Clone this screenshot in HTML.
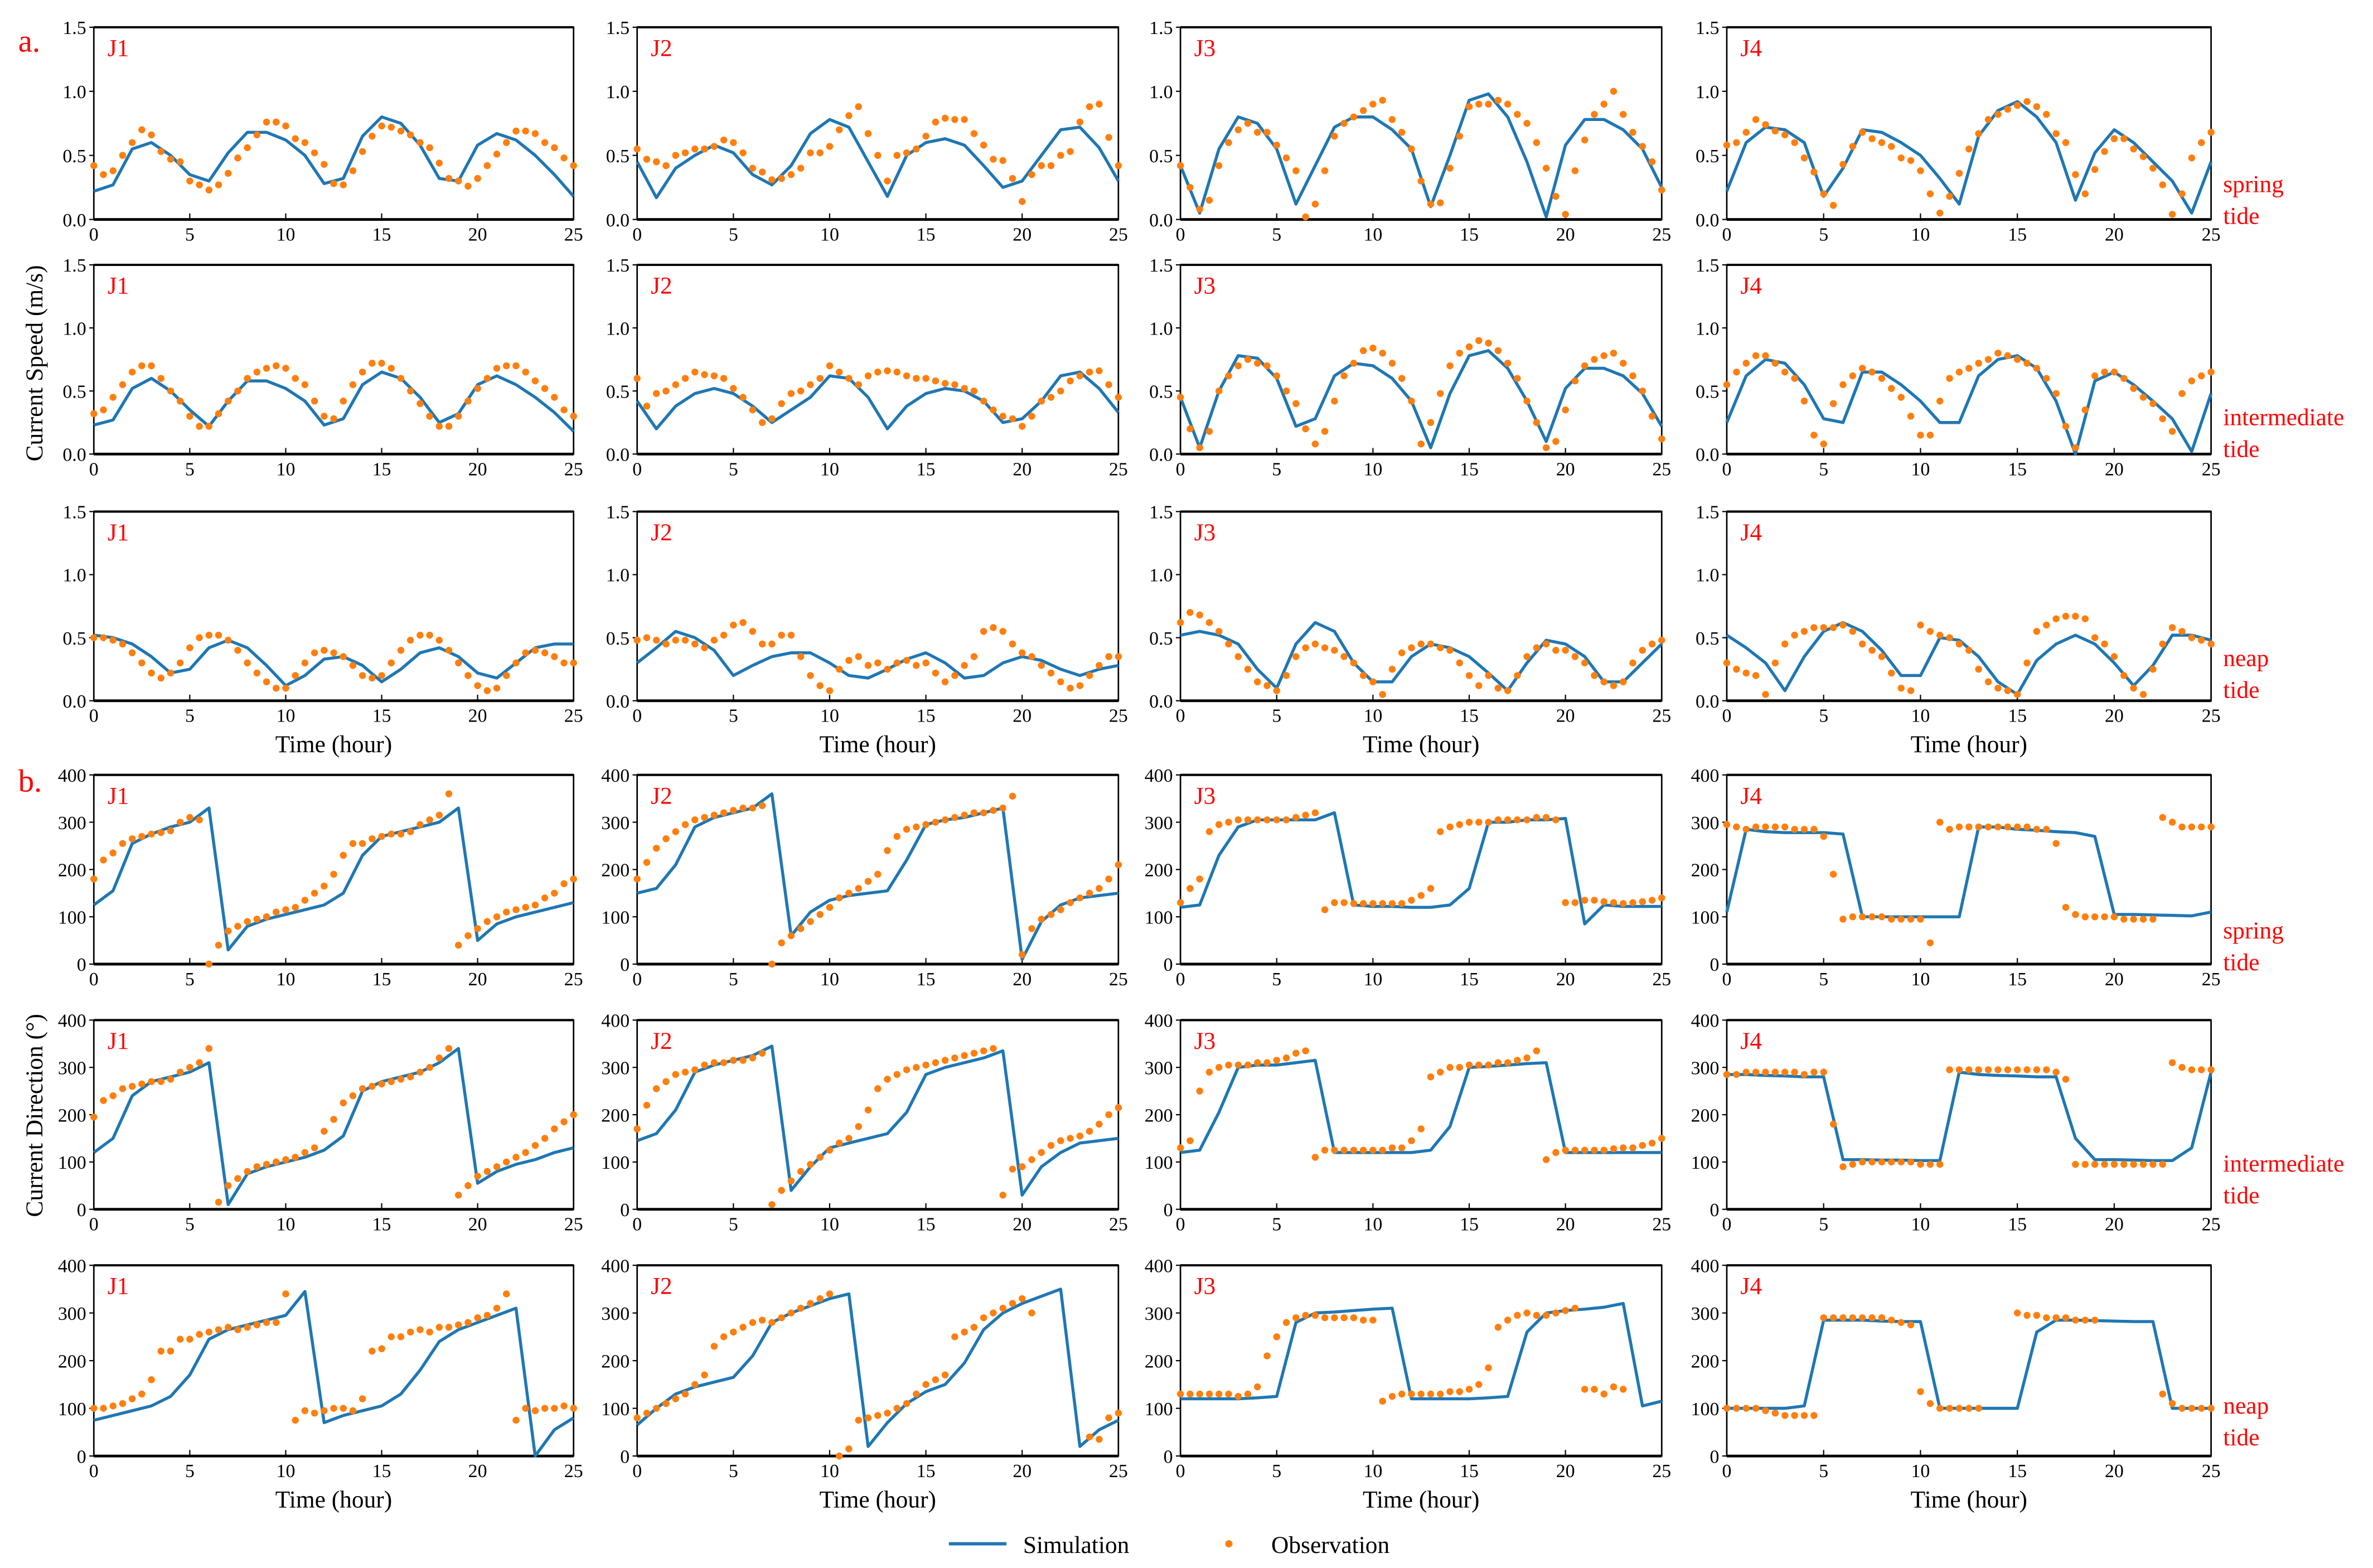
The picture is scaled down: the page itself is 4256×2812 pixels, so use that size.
<!DOCTYPE html>
<html><head><meta charset="utf-8"><style>
html,body{margin:0;padding:0;background:#fff;}
svg{display:block;font-family:"Liberation Serif",serif;}
</style></head><body>
<svg id="fig" width="4256" height="2812" viewBox="0 0 1568 1036" xmlns="http://www.w3.org/2000/svg">
<rect x="0" y="0" width="1568" height="1036" fill="#fff"/>
<text x="12" y="34" font-size="21" fill="#f00">a.</text>
<text x="12" y="523" font-size="21" fill="#f00">b.</text>
<text transform="translate(28,240) rotate(-90)" text-anchor="middle" font-size="16">Current Speed (m/s)</text>
<text transform="translate(28,737) rotate(-90)" text-anchor="middle" font-size="16">Current Direction (°)</text>
<g font-size="16" fill="#f00">
<text x="1469" y="127">spring</text><text x="1469" y="148">tide</text>
<text x="1469" y="281">intermediate</text><text x="1469" y="302">tide</text>
<text x="1469" y="440">neap</text><text x="1469" y="461">tide</text>
<text x="1469" y="620">spring</text><text x="1469" y="641">tide</text>
<text x="1469" y="774">intermediate</text><text x="1469" y="795">tide</text>
<text x="1469" y="934">neap</text><text x="1469" y="955">tide</text>
</g>
<g>
<line x1="627" y1="1020" x2="665" y2="1020" stroke="#1f77b4" stroke-width="2.2"/>
<text x="676" y="1026" font-size="16">Simulation</text>
<circle cx="812" cy="1020" r="2.4" fill="#ff7f0e"/>
<text x="840" y="1026" font-size="16">Observation</text>
</g>
</svg>
<script>
const xTicks=[0,5,10,15,20,25];
const speedTicks=[0,0.5,1.0,1.5];
const speedTickLabels=["0.0","0.5","1.0","1.5"];
const dirTicks=[0,100,200,300,400];
const dirTickLabels=["0","100","200","300","400"];
const stations=["J1","J2","J3","J4"];

const spJ1Sim=[.22,.27,.55,.6,.5,.35,.3,.52,.68,.68,.62,.5,.28,.32,.65,.8,.75,.58,.32,.3,.58,.67,.62,.5,.35,.18];
const spJ1Obs=[.42,.35,.38,.5,.6,.7,.66,.53,.47,.45,.3,.27,.23,.27,.36,.48,.56,.66,.76,.76,.73,.63,.6,.52,.43,.28,.27,.38,.53,.65,.73,.72,.69,.66,.6,.56,.44,.32,.3,.26,.32,.42,.51,.6,.69,.69,.67,.6,.56,.48,.42];
const spJ2Sim=[.45,.17,.4,.5,.58,.52,.35,.27,.42,.67,.78,.72,.45,.18,.5,.6,.63,.58,.42,.25,.3,.5,.7,.72,.56,.3];
const spJ2Obs=[.55,.47,.45,.42,.5,.52,.55,.55,.57,.62,.6,.52,.4,.37,.31,.32,.35,.4,.52,.52,.57,.7,.81,.88,.67,.5,.3,.5,.52,.55,.65,.76,.79,.78,.78,.67,.58,.47,.46,.32,.14,.35,.42,.42,.5,.53,.76,.88,.9,.64,.42];
const spJ3Sim=[.42,.05,.55,.8,.75,.55,.12,.42,.72,.8,.8,.7,.55,.1,.5,.93,.98,.8,.45,.02,.58,.78,.78,.7,.55,.25];
const spJ3Obs=[.42,.25,.08,.15,.42,.6,.7,.75,.68,.68,.58,.48,.38,.02,.12,.38,.65,.75,.8,.85,.9,.93,.78,.68,.55,.3,.12,.13,.4,.65,.88,.9,.9,.93,.9,.82,.75,.6,.4,.18,.04,.38,.62,.82,.9,1.0,.82,.68,.57,.45,.23];
const spJ4Sim=[.22,.6,.72,.7,.6,.18,.4,.7,.68,.6,.5,.32,.12,.65,.85,.92,.8,.6,.15,.52,.7,.6,.45,.3,.05,.45];
const spJ4Obs=[.58,.6,.68,.78,.74,.69,.66,.6,.48,.37,.2,.11,.43,.57,.68,.63,.6,.57,.48,.46,.38,.2,.05,.18,.36,.55,.67,.78,.82,.86,.89,.92,.88,.82,.67,.6,.35,.2,.39,.53,.63,.63,.55,.49,.4,.27,.04,.2,.48,.6,.68];

const imJ1Sim=[.23,.27,.52,.6,.5,.35,.22,.42,.58,.58,.52,.42,.23,.28,.55,.65,.6,.45,.25,.32,.55,.62,.55,.45,.33,.18];
const imJ1Obs=[.32,.35,.45,.55,.65,.7,.7,.6,.5,.42,.3,.22,.22,.32,.42,.5,.6,.65,.68,.7,.68,.6,.55,.42,.3,.28,.42,.55,.65,.72,.72,.68,.6,.5,.4,.3,.22,.22,.3,.42,.52,.6,.68,.7,.7,.65,.58,.52,.45,.35,.3];
const imJ2Sim=[.42,.2,.38,.48,.52,.48,.38,.25,.35,.45,.62,.6,.45,.2,.38,.48,.52,.5,.42,.25,.28,.42,.62,.65,.52,.33];
const imJ2Obs=[.6,.38,.48,.5,.55,.6,.65,.63,.62,.6,.52,.45,.35,.25,.28,.4,.48,.5,.55,.6,.7,.65,.6,.55,.62,.65,.66,.65,.62,.6,.6,.58,.56,.55,.52,.5,.42,.35,.3,.28,.22,.3,.42,.45,.5,.58,.62,.65,.66,.55,.45];
const imJ3Sim=[.45,.05,.5,.78,.76,.6,.22,.28,.62,.72,.7,.6,.42,.05,.48,.78,.82,.68,.42,.1,.52,.68,.68,.62,.48,.22];
const imJ3Obs=[.45,.2,.05,.18,.5,.62,.7,.75,.72,.7,.62,.5,.4,.2,.08,.18,.42,.62,.72,.82,.84,.8,.72,.6,.42,.08,.25,.48,.7,.8,.85,.9,.88,.82,.72,.6,.42,.25,.05,.1,.35,.58,.7,.75,.78,.8,.72,.62,.5,.3,.12];
const imJ4Sim=[.25,.62,.75,.72,.55,.28,.25,.65,.65,.55,.42,.25,.25,.62,.75,.78,.68,.42,0,.58,.65,.55,.42,.28,.02,.48];
const imJ4Obs=[.55,.65,.72,.78,.78,.72,.65,.6,.42,.15,.08,.4,.55,.62,.68,.65,.6,.52,.45,.3,.15,.15,.42,.6,.65,.68,.72,.75,.8,.78,.75,.72,.68,.6,.48,.22,.05,.35,.62,.65,.65,.6,.52,.45,.4,.28,.18,.48,.58,.62,.65];

const npJ1Sim=[.52,.5,.45,.35,.22,.25,.42,.48,.42,.28,.12,.2,.33,.35,.28,.15,.25,.38,.42,.35,.22,.18,.3,.42,.45,.45];
const npJ1Obs=[.5,.5,.48,.45,.38,.3,.22,.18,.22,.3,.42,.5,.52,.52,.48,.4,.3,.22,.15,.1,.1,.2,.3,.38,.4,.38,.35,.28,.2,.18,.2,.3,.4,.48,.52,.52,.48,.4,.3,.2,.12,.08,.1,.2,.3,.38,.4,.38,.35,.3,.3];
const npJ2Sim=[.3,.42,.55,.5,.4,.2,.28,.35,.38,.38,.3,.2,.18,.25,.33,.38,.3,.18,.2,.3,.35,.32,.25,.2,.25,.28];
const npJ2Obs=[.48,.5,.48,.45,.48,.48,.45,.42,.48,.52,.6,.62,.55,.45,.45,.52,.52,.35,.2,.12,.08,.25,.32,.35,.28,.3,.25,.3,.32,.28,.3,.22,.15,.2,.28,.35,.55,.58,.55,.45,.38,.35,.28,.22,.15,.1,.12,.2,.28,.35,.35];
const npJ3Sim=[.52,.55,.52,.45,.25,.1,.45,.62,.55,.3,.15,.15,.35,.45,.42,.35,.22,.08,.3,.48,.45,.35,.15,.15,.3,.45];
const npJ3Obs=[.62,.7,.68,.62,.55,.45,.35,.25,.15,.12,.08,.2,.35,.42,.45,.42,.4,.35,.3,.2,.15,.05,.25,.38,.42,.45,.45,.42,.4,.3,.2,.12,.2,.1,.08,.2,.35,.42,.45,.4,.4,.35,.3,.2,.15,.12,.15,.3,.4,.45,.48];
const npJ4Sim=[.52,.42,.3,.08,.35,.55,.62,.55,.4,.2,.2,.5,.48,.35,.15,.05,.32,.45,.52,.45,.3,.12,.28,.52,.52,.48];
const npJ4Obs=[.3,.25,.22,.2,.05,.3,.45,.52,.55,.58,.58,.58,.6,.55,.45,.4,.35,.22,.1,.08,.6,.55,.52,.5,.45,.4,.25,.15,.1,.08,.05,.3,.55,.6,.65,.67,.67,.65,.5,.45,.35,.2,.1,.05,.25,.45,.58,.55,.5,.48,.45];

const dsJ1Sim=[125,155,255,275,290,300,330,30,80,95,105,115,125,150,230,270,280,290,300,330,50,85,100,110,120,130];
const dsJ1Obs=[180,220,235,255,265,270,275,278,282,300,310,305,0,40,70,80,90,95,100,110,115,120,135,150,165,190,230,255,255,265,270,275,275,280,295,305,315,360,40,60,75,90,100,110,115,120,125,140,150,170,180];
const dsJ2Sim=[150,160,210,290,310,320,330,360,60,110,135,145,150,155,220,295,305,310,320,330,10,90,125,140,145,150];
const dsJ2Obs=[180,215,245,265,280,295,305,310,315,320,325,330,330,335,0,45,60,75,90,105,120,140,150,160,175,190,240,270,285,290,295,300,305,310,315,320,320,325,330,355,20,75,95,105,115,130,140,150,160,180,210];
const dsJ3Sim=[120,125,230,290,305,305,305,305,320,125,122,122,120,120,125,160,300,300,305,305,308,85,125,122,122,122];
const dsJ3Obs=[130,160,180,280,295,300,305,305,305,305,305,305,310,315,320,115,130,130,128,128,128,128,128,128,135,145,160,280,290,295,300,300,300,305,305,305,305,310,310,305,130,130,135,135,132,130,128,130,132,135,140];
const dsJ4Sim=[110,285,280,278,278,278,275,100,100,100,100,100,100,290,290,285,283,280,278,270,105,105,104,103,102,110];
const dsJ4Obs=[295,290,285,290,290,290,290,285,285,285,270,190,95,100,100,100,100,95,95,95,95,45,300,285,290,290,290,290,290,290,290,290,285,285,255,120,105,100,100,100,100,95,95,95,95,310,300,290,290,290,290];

const diJ1Sim=[120,150,240,270,280,290,310,10,75,90,100,110,125,155,250,270,280,290,310,340,55,80,95,105,120,130];
const diJ1Obs=[195,230,240,255,260,265,270,270,275,290,300,310,340,15,50,65,80,90,95,100,105,110,120,130,165,190,225,240,255,260,265,270,275,280,290,300,320,340,30,50,70,80,90,100,110,120,135,150,170,185,200];
const diJ2Sim=[145,160,210,290,305,315,325,345,40,90,130,140,150,160,205,285,300,310,320,335,30,90,120,140,145,150];
const diJ2Obs=[170,220,255,270,285,290,295,305,310,310,315,315,320,330,10,40,60,80,95,110,125,140,150,175,210,255,275,285,295,300,305,310,315,320,325,330,335,340,30,85,90,105,120,135,145,150,155,165,180,200,215];
const diJ3Sim=[120,125,205,300,305,305,310,315,120,120,120,120,120,125,175,300,302,305,308,310,120,120,120,120,120,120];
const diJ3Obs=[130,145,250,290,300,305,305,305,310,310,315,320,330,335,110,125,125,125,125,125,125,125,130,130,145,170,280,290,300,300,305,305,305,310,310,315,320,335,105,120,125,125,125,125,125,128,130,130,135,140,150];
const diJ4Sim=[285,285,283,282,280,280,105,105,104,104,103,103,290,285,283,282,280,280,150,105,105,104,103,103,130,290];
const diJ4Obs=[285,285,290,290,290,290,290,290,285,290,290,180,90,95,100,100,100,100,100,100,95,95,95,295,295,295,295,295,295,295,295,295,295,295,290,275,95,95,95,95,95,95,95,95,95,95,310,300,295,295,295];

const dnJ1Sim=[75,85,95,105,125,170,245,265,275,285,295,345,70,85,95,105,130,180,240,265,280,295,310,0,55,80];
const dnJ1Obs=[100,100,105,110,120,130,160,220,220,245,245,255,260,265,270,265,270,275,280,280,340,75,95,90,95,100,100,95,120,220,225,250,250,260,265,260,270,270,275,280,290,295,310,340,75,100,95,100,100,105,100];
const dnJ2Sim=[65,100,130,145,155,165,210,280,300,315,330,340,20,70,110,135,150,195,265,300,320,335,350,20,55,75];
const dnJ2Obs=[80,90,100,110,120,130,150,170,230,250,260,270,280,285,280,290,300,310,320,330,340,0,15,75,80,85,90,100,110,130,150,160,170,250,260,270,290,300,310,320,330,300,null,null,null,null,null,40,35,80,90];
const dnJ3Sim=[120,120,120,120,122,125,280,300,302,305,308,310,120,120,120,120,122,125,260,300,305,308,312,320,105,115];
const dnJ3Obs=[130,130,130,130,130,130,125,130,145,210,250,280,290,295,295,290,290,290,290,285,285,115,125,130,130,130,130,130,135,135,140,150,185,270,285,295,300,295,295,300,305,310,140,140,130,145,140];
const dnJ4Sim=[100,100,100,100,105,285,285,285,283,282,282,100,100,100,100,100,260,285,285,284,283,282,282,100,100,100];
const dnJ4Obs=[100,100,100,100,95,90,85,85,85,85,290,290,290,290,290,290,290,285,280,275,135,110,100,100,100,100,100,null,null,null,300,295,295,290,290,290,285,285,285,null,null,null,null,null,null,130,110,100,100,100,100];

const rowSim=[[spJ1Sim,spJ2Sim,spJ3Sim,spJ4Sim],[imJ1Sim,imJ2Sim,imJ3Sim,imJ4Sim],[npJ1Sim,npJ2Sim,npJ3Sim,npJ4Sim],[dsJ1Sim,dsJ2Sim,dsJ3Sim,dsJ4Sim],[diJ1Sim,diJ2Sim,diJ3Sim,diJ4Sim],[dnJ1Sim,dnJ2Sim,dnJ3Sim,dnJ4Sim]];
const rowObs=[[spJ1Obs,spJ2Obs,spJ3Obs,spJ4Obs],[imJ1Obs,imJ2Obs,imJ3Obs,imJ4Obs],[npJ1Obs,npJ2Obs,npJ3Obs,npJ4Obs],[dsJ1Obs,dsJ2Obs,dsJ3Obs,dsJ4Obs],[diJ1Obs,diJ2Obs,diJ3Obs,diJ4Obs],[dnJ1Obs,dnJ2Obs,dnJ3Obs,dnJ4Obs]];

const NS="http://www.w3.org/2000/svg";
const svg=document.getElementById('fig');
const colX=[[62,379],[421,739],[780,1098],[1141,1461]];
const rowY=[[18,145],[175,300],[338,463],[512,637],[674,799],[836,962]];
function mk(tag,attrs,parent){const e=document.createElementNS(NS,tag);for(const k in attrs)e.setAttribute(k,attrs[k]);parent.appendChild(e);return e;}

for(let r=0;r<6;r++){
  const isSpeed=r<3;
  const yMax=isSpeed?1.5:400;
  const ticks=isSpeed?speedTicks:dirTicks;
  const tickLabels=isSpeed?speedTickLabels:dirTickLabels;
  for(let c=0;c<4;c++){
    const [x0,x1]=colX[c];const [y0,y1]=rowY[r];
    const xs=t=>x0+(x1-x0)*t/25;
    const ys=v=>y1-(y1-y0)*v/yMax;
    const g=mk('g',{},svg);
    
    
    const frame=mk('rect',{x:x0,y:y0,width:x1-x0,height:y1-y0,fill:'none',stroke:'#000','stroke-width':1},g);
    
    
    const base=mk('line',{x1:x0,y1:y1,x2:x1,y2:y1,stroke:'#000','stroke-width':1.8},g);
    
    
    const top=mk('line',{x1:x0,y1:y0,x2:x1,y2:y0,stroke:'#000','stroke-width':1.5},g);
    
    
    xTicks.forEach(t=>{
      const tk=mk('line',{x1:xs(t),y1:y1,x2:xs(t),y2:y1-4,stroke:'#000','stroke-width':0.8},g);
      
      
      const tl=mk('text',{x:xs(t),y:y1+14,'text-anchor':'middle','font-size':12.5},g);
      tl.textContent=t;
      
      
    });
    ticks.forEach((v,i)=>{
      const tk=mk('line',{x1:x0,y1:ys(v),x2:x0-3,y2:ys(v),stroke:'#000','stroke-width':0.8},g);
      
      
      const tl=mk('text',{x:x0-5,y:ys(v)+4.5,'text-anchor':'end','font-size':12.5},g);
      tl.textContent=tickLabels[i];
      
      
    });
    const st=mk('text',{x:x0+9,y:y0+19,'font-size':16,fill:'#f00'},g);
    st.textContent=stations[c];
    
    
    const sim=rowSim[r][c];
    const pts=sim.map((v,i)=>xs(i).toFixed(2)+','+ys(v).toFixed(2)).join(' ');
    const pl=mk('polyline',{points:pts,fill:'none',stroke:'#1f77b4','stroke-width':2,'stroke-linejoin':'round'},g);
    
    
    rowObs[r][c].forEach((v,i)=>{
      const t=i*0.5; if(t>25||v===null)return;
      const d=mk('circle',{cx:xs(t),cy:ys(v),r:2.3,fill:'#ff7f0e'},g);
      
      
    });
    if(r===2||r===5){
      const xl=mk('text',{x:(x0+x1)/2,y:y1+34,'text-anchor':'middle','font-size':16},g);
      xl.textContent='Time (hour)';
      
      
    }
  }
}
</script>
</body></html>
